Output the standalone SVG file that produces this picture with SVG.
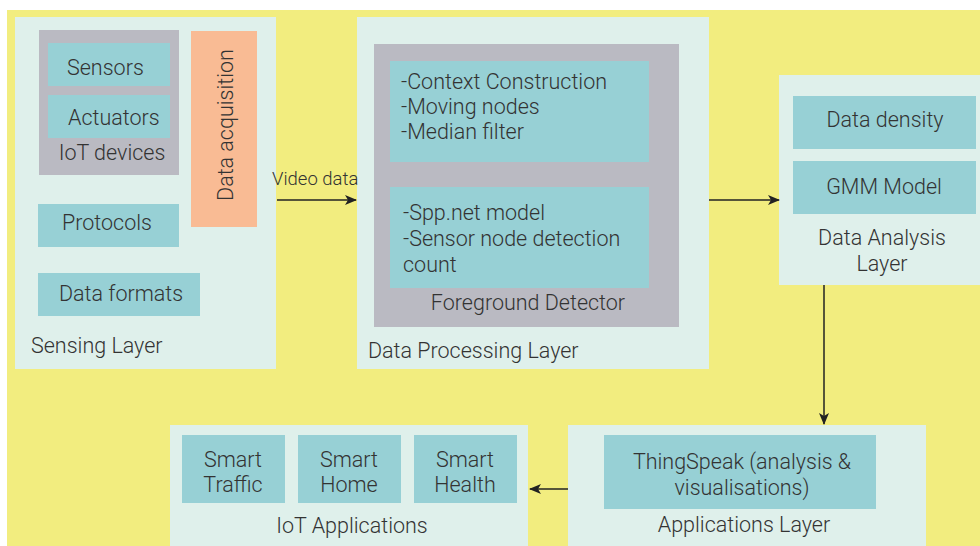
<svg xmlns="http://www.w3.org/2000/svg" width="980" height="546" viewBox="0 0 980 546">
<style>
.bg{fill:#F2ED7F}
.panel{fill:#DFF0EB}
.teal{fill:#97D0D5}
.gray{fill:#BABAC2}
.orange{fill:#F9BB94}
text{font-family:Roboto,"Liberation Sans",sans-serif;font-weight:300;font-size:21.5px;fill:#333333}
.c{text-anchor:middle}
.sm{font-size:18.5px}
.con{stroke:#222222;stroke-width:1.5;fill:none;marker-end:url(#ah)}
</style>
<defs>
<marker id="ah" viewBox="0 0 12 10" refX="11" refY="5" markerWidth="12" markerHeight="10" markerUnits="userSpaceOnUse" orient="auto">
<path d="M0,0 L12,5 L0,10 L3,5 z" fill="#222222"/>
</marker>
</defs>
<rect width="980" height="546" fill="#ffffff"/>
<rect class="bg" x="7" y="10" width="973" height="536"/>

<g id="sensing-layer">
<rect class="panel" x="15" y="17" width="261" height="352"/>
<text x="31" y="353">Sensing Layer</text>
</g>
<g id="iot-devices">
<rect class="gray" x="39" y="30" width="140" height="145"/>
<text class="c" x="112" y="160">IoT devices</text>
</g>
<g id="sensors">
<rect class="teal" x="48" y="43" width="122" height="43"/>
<text x="67" y="75">Sensors</text>
</g>
<g id="actuators">
<rect class="teal" x="48" y="95" width="122" height="43"/>
<text x="68" y="125">Actuators</text>
</g>
<g id="data-acquisition">
<rect class="orange" x="191" y="31" width="66" height="196"/>
<text class="c" transform="translate(233,125) rotate(-90)">Data acquisition</text>
</g>
<g id="protocols">
<rect class="teal" x="38" y="204" width="141" height="43"/>
<text x="62" y="230">Protocols</text>
</g>
<g id="data-formats">
<rect class="teal" x="38" y="273" width="162" height="43"/>
<text x="59" y="301">Data formats</text>
</g>

<g id="data-processing-layer">
<rect class="panel" x="357" y="17" width="352" height="352"/>
<text x="368" y="358">Data Processing Layer</text>
</g>
<g id="foreground-detector">
<rect class="gray" x="374" y="44" width="305" height="283"/>
<text class="c" x="528" y="310">Foreground Detector</text>
</g>
<g id="context-box">
<rect class="teal" x="390" y="61" width="259" height="101"/>
<text x="401" y="89">-Context Construction</text>
<text x="401" y="114">-Moving nodes</text>
<text x="401" y="139">-Median filter</text>
</g>
<g id="spp-box">
<rect class="teal" x="390" y="187" width="259" height="101"/>
<text x="403" y="220">-Spp.net model</text>
<text x="403" y="246">-Sensor node detection</text>
<text x="403" y="272">count</text>
</g>

<g id="data-analysis-layer">
<rect class="panel" x="779" y="75" width="201" height="210"/>
<text class="c" x="882" y="245">Data Analysis</text>
<text class="c" x="882" y="271">Layer</text>
</g>
<g id="data-density">
<rect class="teal" x="793" y="96" width="183" height="53"/>
<text class="c" x="885" y="127">Data density</text>
</g>
<g id="gmm-model">
<rect class="teal" x="793" y="161" width="183" height="53"/>
<text class="c" x="884" y="194">GMM Model</text>
</g>

<g id="applications-layer">
<rect class="panel" x="568" y="425" width="358" height="121"/>
<text class="c" x="744" y="532">Applications Layer</text>
</g>
<g id="thingspeak">
<rect class="teal" x="604" y="435" width="272" height="74"/>
<text class="c" x="742" y="469">ThingSpeak (analysis &amp;</text>
<text class="c" x="742" y="495">visualisations)</text>
</g>

<g id="iot-applications">
<rect class="panel" x="170" y="425" width="358" height="121"/>
<text class="c" x="352" y="533">IoT Applications</text>
</g>
<g id="smart-traffic">
<rect class="teal" x="182" y="435" width="103" height="68"/>
<text class="c" x="233" y="467">Smart</text>
<text class="c" x="233" y="492">Traffic</text>
</g>
<g id="smart-home">
<rect class="teal" x="298" y="435" width="103" height="68"/>
<text class="c" x="349" y="467">Smart</text>
<text class="c" x="349" y="492">Home</text>
</g>
<g id="smart-health">
<rect class="teal" x="414" y="435" width="103" height="68"/>
<text class="c" x="465" y="467">Smart</text>
<text class="c" x="465" y="492">Health</text>
</g>

<g id="connectors">
<line class="con" x1="277" y1="200" x2="356" y2="200"/>
<text class="sm" x="272" y="185">Video data</text>
<line class="con" x1="709" y1="200" x2="779" y2="200"/>
<line class="con" x1="824" y1="285" x2="824" y2="424"/>
<line class="con" x1="568" y1="489" x2="530" y2="489"/>
</g>
</svg>
